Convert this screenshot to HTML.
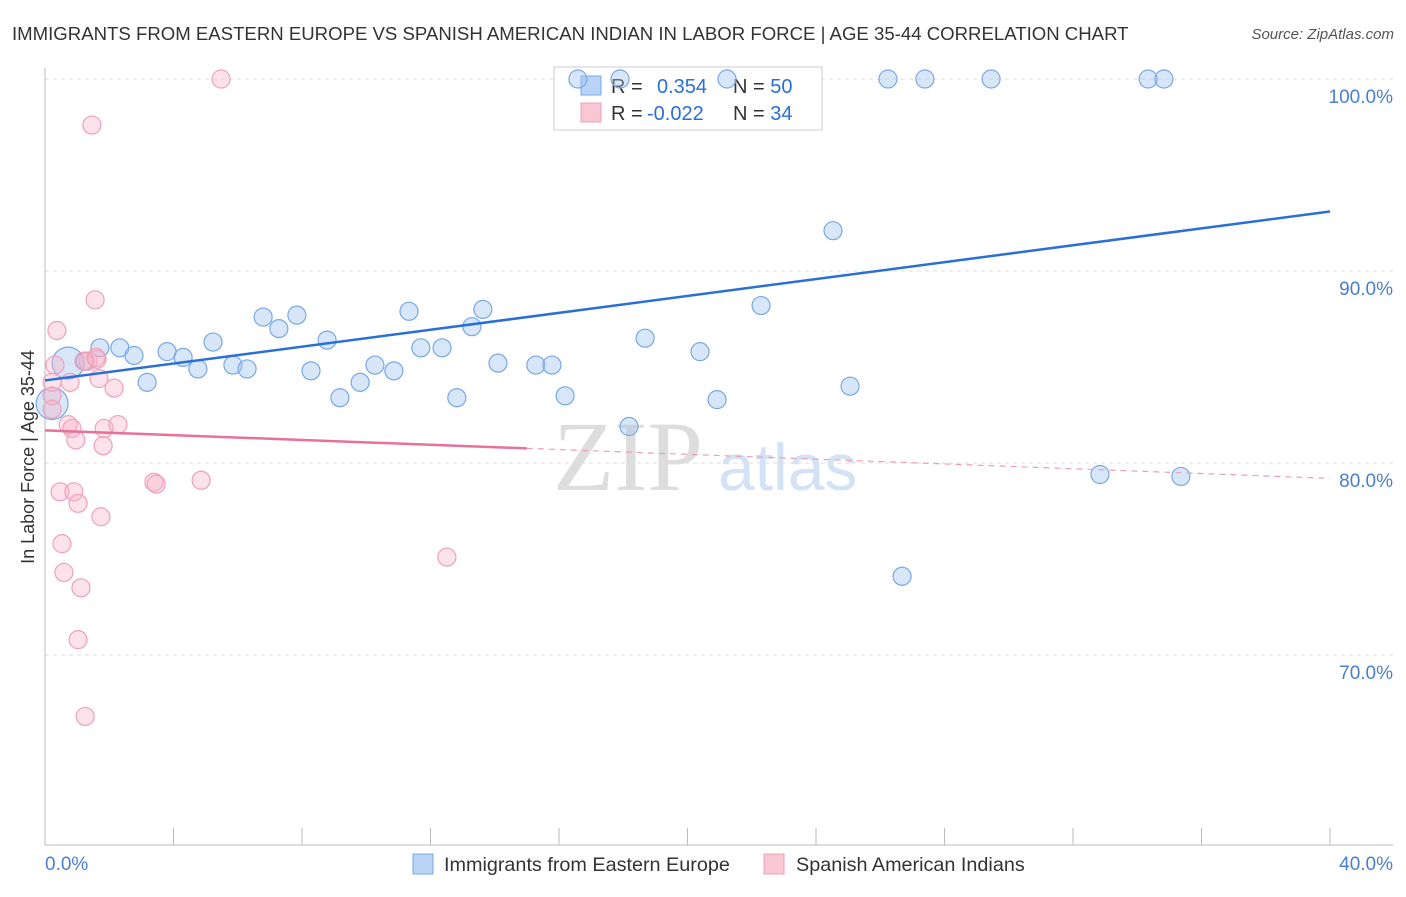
<!DOCTYPE html>
<html><head><meta charset="utf-8"><style>
body{margin:0;background:#fff;font-family:"Liberation Sans",sans-serif}
</style></head><body>
<svg width="1406" height="892" xmlns="http://www.w3.org/2000/svg" style="font-family:'Liberation Sans',sans-serif">
<text x="12" y="40" font-size="18.6" fill="#333">IMMIGRANTS FROM EASTERN EUROPE VS SPANISH AMERICAN INDIAN IN LABOR FORCE | AGE 35-44 CORRELATION CHART</text>
<text x="1394" y="39" font-size="15" fill="#555" font-style="italic" text-anchor="end">Source: ZipAtlas.com</text>
<g id="grid"></g>
<text x="553" y="490" font-size="100" fill="#ddd" font-family="Liberation Serif">ZIP</text>
<text x="718" y="490" font-size="66" fill="#d3e2f5">atlas</text>
<g>
<rect x="554" y="67" width="268" height="63" fill="#fff" stroke="#ccc"/>
<rect x="581" y="76" width="20" height="19" fill="#b8d3f5" stroke="#7aaae6"/>
<rect x="581" y="103" width="20" height="19" fill="#f9c6d5" stroke="#f0a0b8"/>
<text x="611" y="93" font-size="20" fill="#333">R = <tspan x="657" fill="#2a6fd6">0.354</tspan><tspan x="733" fill="#333">N = </tspan><tspan fill="#2a6fd6">50</tspan></text>
<text x="611" y="120" font-size="20" fill="#333">R = <tspan x="647" fill="#2a6fd6">-0.022</tspan><tspan x="733" fill="#333">N = </tspan><tspan fill="#2a6fd6">34</tspan></text>
</g>
<g id="pts"></g>
<g id="lines"></g>
<text transform="translate(34,457) rotate(-90)" font-size="18" fill="#333" text-anchor="middle">In Labor Force | Age 35-44</text>
<g>
<rect x="413" y="854" width="20" height="20" fill="#b8d3f5" stroke="#7aaae6"/>
<text x="444" y="871" font-size="19.8" fill="#333">Immigrants from Eastern Europe</text>
<rect x="764" y="854" width="20" height="20" fill="#f9c6d5" stroke="#f0a0b8"/>
<text x="796" y="871" font-size="19.8" fill="#333">Spanish American Indians</text>
</g>
</svg>
<script>
const xTicks=[0,40];
const yTicks=[100,90,80,70];
const blueX=[0.22,0.72,1.25,1.71,2.33,2.77,3.18,3.80,4.30,4.76,5.23,5.85,6.29,6.79,7.28,7.84,8.28,8.78,9.18,9.81,10.27,10.86,11.33,11.70,12.36,12.82,13.29,13.63,14.10,15.28,15.78,16.19,18.18,18.68,20.39,20.92,22.29,24.53,25.06,26.24,26.68,27.39,29.45,32.84,34.34,34.83,35.36,16.59,17.90,21.23];
const blueY=[83.1,85.2,85.3,86.0,86.0,85.6,84.2,85.8,85.5,84.9,86.3,85.1,84.9,87.6,87.0,87.7,84.8,86.4,83.4,84.2,85.1,84.8,87.9,86.0,86.0,83.4,87.1,88.0,85.2,85.1,85.1,83.5,81.9,86.5,85.8,83.3,88.2,92.1,84.0,100,74.1,100,100,79.4,100,100,79.3,100,100,100];
const pinkX=[0.22,0.22,0.31,0.37,0.47,0.53,0.59,0.72,0.78,0.84,0.90,0.96,1.03,1.03,1.12,1.25,1.34,1.46,1.56,1.62,1.68,1.74,1.81,1.84,2.15,2.27,3.39,3.46,4.86,5.48,12.51,0.22,1.21,1.59];
const pinkY=[83.5,82.8,85.1,86.9,78.5,75.8,74.3,82.0,84.2,81.8,78.5,81.2,77.9,70.8,73.5,66.8,85.3,97.6,88.5,85.4,84.4,77.2,80.9,81.8,83.9,82.0,79.0,78.9,79.1,100,75.1,84.2,85.3,85.5];
const blueBig=[0,1];
const blueFit=[84.3,93.1];
const pinkFit=[81.7,79.2];
const pinkSolidEnd=15;
const NS="http://www.w3.org/2000/svg";
const X=v=>45+v/40*1285;
const Y=v=>79+(100-v)*19.2;
function mk(t,a,p){const e=document.createElementNS(NS,t);for(const k in a)e.setAttribute(k,a[k]);p.appendChild(e);return e;}
const grid=document.getElementById('grid');
yTicks.forEach(v=>{
 const l=mk('line',{x1:45,x2:1393,y1:Y(v),y2:Y(v),stroke:'#ddd','stroke-dasharray':'4,4'},grid);
 
 
 const t=mk('text',{x:1393,y:Y(v)+24,'font-size':19,fill:'#4a7fd0','text-anchor':'end'},grid);
 t.textContent=v.toFixed(1)+'%';
 
 
});
mk('line',{x1:45,x2:45,y1:68,y2:845,stroke:'#bbb'},grid);
mk('line',{x1:45,x2:1393,y1:845,y2:845,stroke:'#bbb'},grid);
for(let i=1;i<=10;i++){const x=X(i*4);mk('line',{x1:x,x2:x,y1:828,y2:845,stroke:'#bbb'},grid);}
xTicks.forEach((v,i)=>{
 const t=mk('text',{x:i?1393:45,y:870,'font-size':19,fill:'#4a7fd0','text-anchor':i?'end':'start'},grid);
 t.textContent=v.toFixed(1)+'%';
 
 
});
const pts=document.getElementById('pts');
blueX.forEach((v,i)=>{
 const c=mk('circle',{cx:X(v),cy:Y(blueY[i]),r:blueBig.includes(i)?16:9,fill:'rgba(160,196,240,0.42)',stroke:'#78a8e4','stroke-width':1.2},pts);
 
 
});
pinkX.forEach((v,i)=>{
 const c=mk('circle',{cx:X(v),cy:Y(pinkY[i]),r:9,fill:'rgba(248,180,200,0.38)',stroke:'#f0a0b8','stroke-width':1.2},pts);
 
 
});
const ln=document.getElementById('lines');
const b=mk('line',{x1:X(0),y1:Y(blueFit[0]),x2:X(40),y2:Y(blueFit[1]),stroke:'#2a6fd6','stroke-width':2.5},ln);


const pm=pinkFit[0]+(pinkFit[1]-pinkFit[0])*pinkSolidEnd/40;
const p1=mk('line',{x1:X(0),y1:Y(pinkFit[0]),x2:X(pinkSolidEnd),y2:Y(pm),stroke:'#e8709a','stroke-width':2.5},ln);


const p2=mk('line',{x1:X(pinkSolidEnd),y1:Y(pm),x2:X(40),y2:Y(pinkFit[1]),stroke:'#e8a0b8','stroke-width':1.2,'stroke-dasharray':'6,5'},ln);


</script>
</body></html>
